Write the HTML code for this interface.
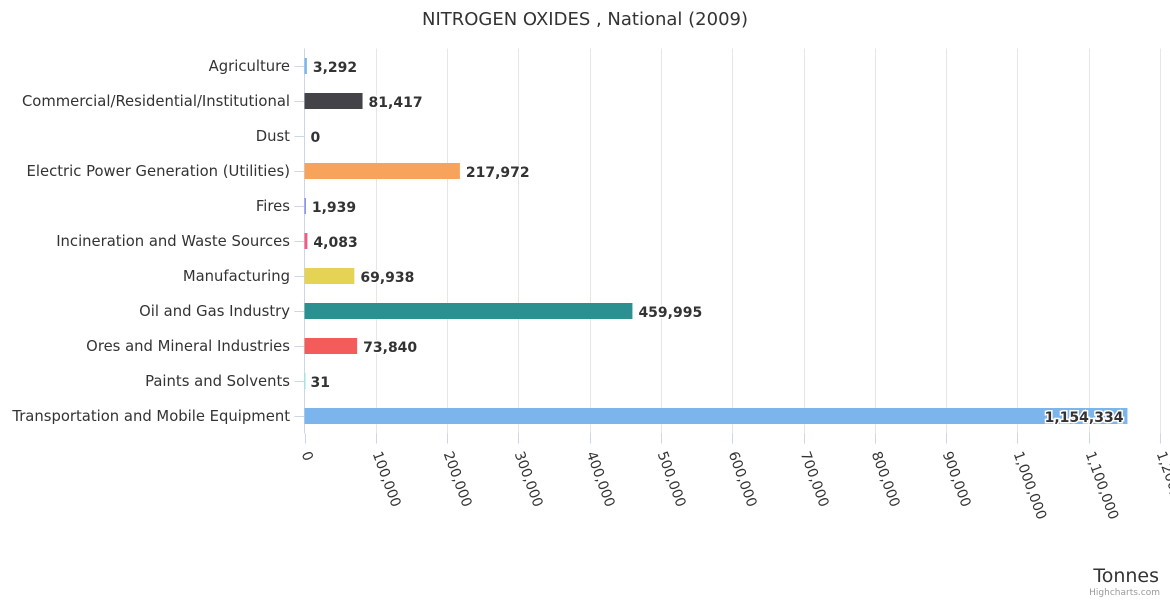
<!DOCTYPE html>
<html><head><meta charset="utf-8"><style>
body{margin:0;background:#fff;}
svg{font-family:"DejaVu Sans","Liberation Sans",sans-serif;}
</style></head><body>
<svg id="chart" width="1170" height="600">
<text x="585" y="25" text-anchor="middle" font-size="18" fill="#333">NITROGEN OXIDES , National (2009)</text>
<g id="grid"></g><g id="bars"></g><g id="labels"></g>
<text x="1159" y="582" text-anchor="end" font-size="19" fill="#333">Tonnes</text>
<text x="1160" y="595" text-anchor="end" font-size="9" fill="#999">Highcharts.com</text>
</svg>
<script>
const categories=["Agriculture","Commercial/Residential/Institutional","Dust","Electric Power Generation (Utilities)","Fires","Incineration and Waste Sources","Manufacturing","Oil and Gas Industry","Ores and Mineral Industries","Paints and Solvents","Transportation and Mobile Equipment"];
const values=[3292,81417,0,217972,1939,4083,69938,459995,73840,31,1154334];
const colors=["#7cb5ec","#434348","#90ed7d","#f7a35c","#8085e9","#f15c80","#e4d354","#2b908f","#f45b5b","#91e8e1","#7cb5ec"];
const ticks=[0,100000,200000,300000,400000,500000,600000,700000,800000,900000,1000000,1100000,1200000];
const NS="http://www.w3.org/2000/svg";
const X0=304.5,X1=1160,TOPY=48.5,BAND=35,MAXV=1200000;
const xs=v=>X0+(X1-X0)*v/MAXV;
const ys=i=>TOPY+BAND*i+BAND/2;
const fmt=v=>v.toLocaleString("en-US");
function mk(tag,attrs,parent){const e=document.createElementNS(NS,tag);for(const k in attrs)e.setAttribute(k,attrs[k]);parent.appendChild(e);return e;}
const grid=document.getElementById("grid"),bars=document.getElementById("bars"),labels=document.getElementById("labels");
const BOTTOM=TOPY+BAND*categories.length;
ticks.forEach((t,i)=>{
  const x=Math.round(xs(t))+0.5;
  if(i>0){const g=mk("line",{x1:x,x2:x,y1:TOPY,y2:BOTTOM,stroke:"#e6e6e6"},grid);
  
  }
  const tk=mk("line",{x1:x,x2:x,y1:BOTTOM,y2:BOTTOM+10,stroke:"#ccd6eb"},grid);
  
  
  const tx=mk("text",{x:x-4,y:BOTTOM+20,"font-size":14,fill:"#333",transform:`rotate(70 ${x-4} ${BOTTOM+20})`},labels);
  tx.textContent=fmt(t);
  
  
});
const ax=mk("line",{x1:X0,x2:X0,y1:TOPY,y2:BOTTOM,stroke:"#ccd6eb"},grid);


categories.forEach((c,i)=>{
  const y=ys(i);
  const tk=mk("line",{x1:X0-10,x2:X0,y1:Math.round(y)+0.5,y2:Math.round(y)+0.5,stroke:"#ccd6eb"},grid);
  
  
  const lb=mk("text",{x:290,y:y+5,"text-anchor":"end","font-size":14.8,fill:"#333"},labels);
  lb.textContent=c;
  
  
  const w=xs(values[i])-X0;
  const r=mk("rect",{x:X0,y:y-8,width:Math.max(w,values[i]>0?1:0),height:16,fill:colors[i]},bars);
  
  
  const inside=w>700;
  const vl=mk("text",{x:inside?X0+w-4:X0+w+6,y:y+6,"text-anchor":inside?"end":"start","font-size":14,"font-weight":"bold",fill:"#333",stroke:"#fff","stroke-width":3,"paint-order":"stroke"},labels);
  vl.textContent=fmt(values[i]);
  
  
});
</script>
</body></html>
